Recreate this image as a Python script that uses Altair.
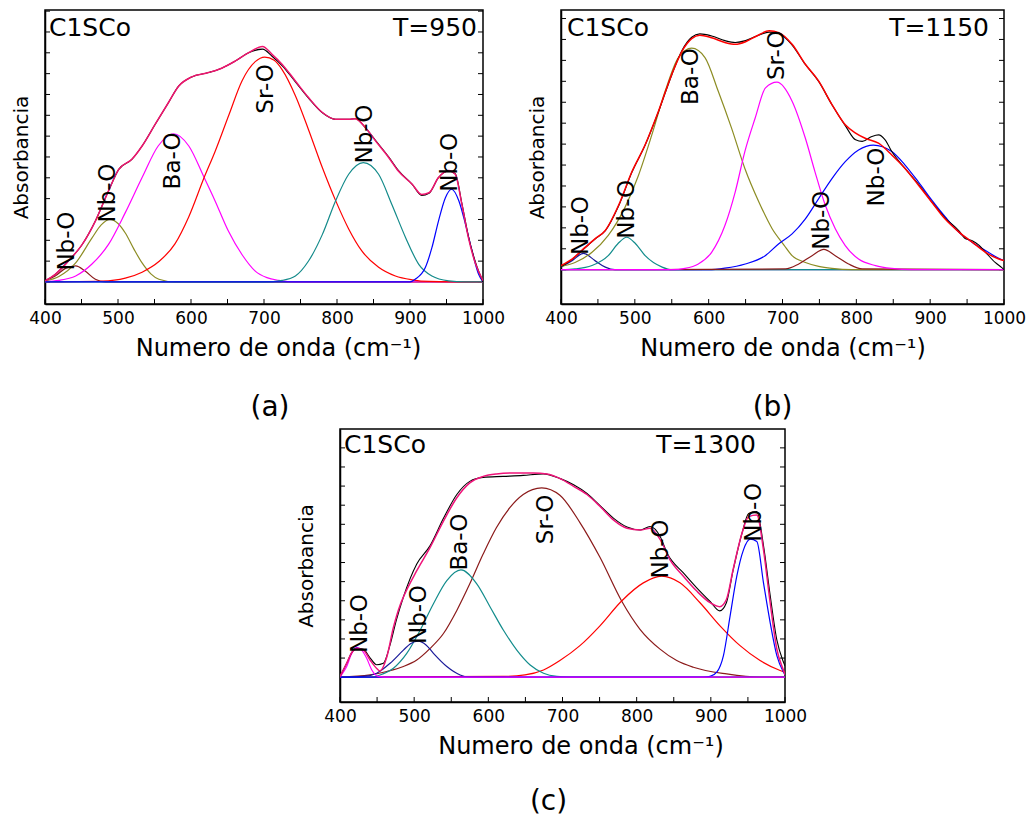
import altair as alt
import pandas as pd

FONT = "DejaVu Sans"
XT = "Numero de onda (cm\u207b\u00b9)"

# ---------------- panel (a)  T=950 ----------------
a_fit_x = [400, 414, 432, 451, 469, 487, 501, 519, 533, 551, 569, 583, 601, 624, 642, 661, 679, 698, 711, 725,
           743, 761, 780, 798, 816, 825, 839, 853, 871, 884, 903, 916, 926, 939, 953, 962, 971, 980, 990, 1000]
a_fit_y = [0.004, 0.028, 0.077, 0.138, 0.224, 0.335, 0.414, 0.451, 0.50, 0.58, 0.659, 0.72, 0.754, 0.77, 0.786,
           0.813, 0.843, 0.866, 0.837, 0.80, 0.739, 0.678, 0.623, 0.598, 0.598, 0.60, 0.567, 0.518, 0.457, 0.408,
           0.359, 0.322, 0.328, 0.384, 0.41, 0.396, 0.286, 0.163, 0.065, 0.005]
a_dat_y = [0.004, 0.028, 0.077, 0.138, 0.224, 0.335, 0.414, 0.451, 0.50, 0.58, 0.659, 0.72, 0.754, 0.77, 0.786,
           0.813, 0.843, 0.856, 0.83, 0.795, 0.736, 0.676, 0.622, 0.598, 0.598, 0.60, 0.567, 0.52, 0.459, 0.41,
           0.359, 0.318, 0.326, 0.384, 0.408, 0.398, 0.29, 0.168, 0.07, 0.0]

a_nb442_x = [400, 414, 428, 442, 455, 469, 483, 1000]
a_nb442_y = [0.004, 0.022, 0.05, 0.059, 0.04, 0.01, 0.0, 0.0]
a_nb489_x = [400, 419, 442, 464, 477, 489, 500, 510, 522, 533, 545, 556, 578, 1000]
a_nb489_y = [0.003, 0.02, 0.07, 0.16, 0.21, 0.23, 0.215, 0.18, 0.12, 0.07, 0.03, 0.01, 0.0, 0.0]
a_ba_x = [400, 419, 442, 464, 487, 510, 533, 555, 576, 597, 618, 633, 651, 670, 688, 704, 720, 745, 1000]
a_ba_y = [0.002, 0.006, 0.022, 0.065, 0.138, 0.255, 0.384, 0.5, 0.545, 0.5, 0.384, 0.298, 0.188, 0.10, 0.04,
          0.016, 0.006, 0.0, 0.0]
a_sr_x = [400, 478, 510, 533, 556, 578, 597, 618, 633, 652, 670, 688, 701, 714, 725, 743, 761, 780, 798, 816,
          834, 857, 880, 903, 926, 1000]
a_sr_y = [0.0, 0.003, 0.014, 0.036, 0.075, 0.14, 0.24, 0.384, 0.48, 0.615, 0.74, 0.81, 0.827, 0.815, 0.78, 0.685,
          0.56, 0.42, 0.30, 0.195, 0.114, 0.054, 0.022, 0.008, 0.002, 0.0]
a_nb836_x = [400, 700, 725, 743, 761, 780, 798, 816, 836, 857, 875, 894, 912, 930, 953, 975, 1000]
a_nb836_y = [0.0, 0.0, 0.006, 0.022, 0.077, 0.175, 0.298, 0.396, 0.439, 0.396, 0.286, 0.163, 0.065, 0.022, 0.004,
             0.0, 0.0]
a_nb956_x = [400, 900, 907, 921, 930, 939, 948.5, 957, 967, 976, 985, 994, 1000]
a_nb956_y = [0.0, 0.0, 0.01, 0.053, 0.126, 0.224, 0.31, 0.341, 0.298, 0.212, 0.114, 0.028, 0.0]

a_lbl_x = [430, 486, 575, 703, 838, 955]
a_lbl_y = [0.15, 0.327, 0.445, 0.71, 0.544, 0.44]
a_lbl_t = ["Nb-O", "Nb-O", "Ba-O", "Sr-O", "Nb-O", "Nb-O"]

# ---------------- panel (b)  T=1150 ----------------
b_fit_x = [400, 415, 433, 446, 460, 478, 496, 514, 532, 550, 564, 577, 588, 604, 622, 636, 650, 665, 682, 695,
           713, 731, 749, 767, 785, 799, 812, 830, 848, 866, 884, 902, 920, 939, 957, 975, 993, 1000]
b_fit_y = [0.016, 0.041, 0.087, 0.119, 0.151, 0.248, 0.377, 0.481, 0.61, 0.752, 0.842, 0.89, 0.903, 0.893, 0.875,
           0.868, 0.878, 0.90, 0.92, 0.913, 0.868, 0.791, 0.726, 0.636, 0.558, 0.526, 0.506, 0.487, 0.442, 0.39,
           0.326, 0.261, 0.196, 0.145, 0.106, 0.067, 0.041, 0.035]
b_dat_x = [400, 415, 433, 446, 460, 478, 496, 514, 532, 550, 564, 577, 588, 604, 622, 636, 650, 665, 682, 695,
           713, 731, 749, 767, 785, 799, 808, 821, 830, 839, 848, 866, 884, 902, 920, 939, 948, 957, 966, 975,
           988, 997, 1000]
b_dat_y = [0.012, 0.04, 0.085, 0.118, 0.15, 0.245, 0.375, 0.48, 0.608, 0.75, 0.845, 0.895, 0.908, 0.9, 0.882,
           0.875, 0.882, 0.9, 0.915, 0.91, 0.865, 0.79, 0.725, 0.635, 0.555, 0.50, 0.494, 0.513, 0.519, 0.50,
           0.455, 0.39, 0.33, 0.262, 0.2, 0.15, 0.119, 0.112, 0.095, 0.067, 0.028, 0.008, 0.0]

b_nb432_x = [400, 415, 430.5, 446, 460, 473, 1000]
b_nb432_y = [0.01, 0.035, 0.063, 0.035, 0.01, 0.0, 0.0]
b_nb489_x = [400, 419, 442, 464, 477, 489, 501, 514, 537, 550, 1000]
b_nb489_y = [0.0, 0.003, 0.016, 0.054, 0.1, 0.125, 0.1, 0.054, 0.01, 0.0, 0.0]
b_ba_x = [400, 419, 442, 464, 487, 505, 523, 541, 559, 577, 595, 613, 631, 649, 668, 686, 702, 713, 731, 749,
          767, 794, 1000]
b_ba_y = [0.013, 0.028, 0.067, 0.132, 0.242, 0.364, 0.519, 0.687, 0.817, 0.853, 0.817, 0.687, 0.545, 0.39, 0.261,
          0.158, 0.095, 0.054, 0.028, 0.013, 0.005, 0.0, 0.0]
b_sr_x = [400, 550, 568, 586, 604, 622, 636, 649, 663, 677, 692.5, 713, 731, 744, 758, 771.5, 785, 803, 826, 848,
          875, 1000]
b_sr_y = [0.0, 0.0, 0.005, 0.022, 0.067, 0.17, 0.30, 0.455, 0.584, 0.70, 0.722, 0.649, 0.506, 0.377, 0.248,
          0.158, 0.093, 0.041, 0.016, 0.005, 0.0, 0.0]
b_nb756_x = [400, 704, 722, 740, 756, 771.5, 789.5, 808, 1000]
b_nb756_y = [0.0, 0.003, 0.022, 0.054, 0.078, 0.054, 0.022, 0.003, 0.0]
b_nb823_x = [400, 600, 622, 649.5, 676.6, 695, 713, 731, 749, 767, 785, 803, 823, 848, 866, 884, 902.5, 920.5,
             938.6, 956.7, 974.7, 992.8, 1000]
b_nb823_y = [0.0, 0.0, 0.006, 0.022, 0.054, 0.10, 0.138, 0.196, 0.274, 0.351, 0.416, 0.461, 0.48, 0.455, 0.403,
             0.338, 0.267, 0.203, 0.145, 0.106, 0.074, 0.044, 0.035]

b_lbl_x = [427.6, 489, 575.6, 692, 753, 828]
b_lbl_y = [0.17, 0.233, 0.744, 0.826, 0.19, 0.357]
b_lbl_t = ["Nb-O", "Nb-O", "Ba-O", "Sr-O", "Nb-O", "Nb-O"]

# ---------------- panel (c)  T=1300 ----------------
c_fit_x = [400, 409, 416, 422.5, 431.5, 440.5, 449.5, 454, 463, 472, 481, 485.5, 503.5, 521.5, 539.5, 557.5, 575,
           593, 611, 634, 661, 679, 697, 715, 733, 751, 769, 787, 805, 818, 832, 845, 863, 881, 899, 912, 921,
           930, 942, 951, 962, 971, 980, 989, 998, 1000]
c_fit_y = [0.003, 0.056, 0.1, 0.116, 0.109, 0.069, 0.035, 0.025, 0.08, 0.2, 0.29, 0.323, 0.429, 0.523, 0.629,
           0.723, 0.783, 0.809, 0.819, 0.823, 0.823, 0.819, 0.80, 0.769, 0.736, 0.687, 0.633, 0.60, 0.593, 0.60,
           0.553, 0.473, 0.407, 0.347, 0.30, 0.284, 0.313, 0.433, 0.58, 0.647, 0.653, 0.513, 0.30, 0.113, 0.027,
           0.01]
c_dat_x = [400, 409, 416, 422.5, 431.5, 440.5, 449.5, 458.5, 467.5, 476, 485.5, 503.5, 521.5, 539.5, 557.5, 575,
           593, 620, 647, 674, 697, 715, 733, 751, 769, 787, 805, 818, 832, 841, 863, 881, 899, 912, 921, 930, 942,
           951, 962, 971, 980, 989, 998, 1000]
c_dat_y = [0.003, 0.056, 0.1, 0.116, 0.112, 0.078, 0.05, 0.056, 0.13, 0.23, 0.323, 0.456, 0.53, 0.64, 0.736,
           0.789, 0.805, 0.809, 0.813, 0.819, 0.80, 0.775, 0.74, 0.69, 0.64, 0.605, 0.593, 0.607, 0.565, 0.50,
           0.42, 0.36, 0.305, 0.267, 0.30, 0.43, 0.58, 0.66, 0.667, 0.53, 0.33, 0.15, 0.06, 0.045]

c_nb425_x = [400, 404.5, 409, 415, 422.5, 429, 436, 442.7, 451.7, 460, 1000]
c_nb425_y = [0.0, 0.02, 0.043, 0.09, 0.12, 0.11, 0.076, 0.03, 0.003, 0.0, 0.0]
c_nb505_x = [400, 431.5, 449.5, 467.5, 485.5, 495, 505.7, 516, 526, 544, 562, 575, 1000]
c_nb505_y = [0.0, 0.003, 0.016, 0.056, 0.109, 0.135, 0.145, 0.13, 0.096, 0.043, 0.009, 0.0, 0.0]
c_ba_x = [400, 440, 454, 472, 490, 508, 526, 544, 563, 584.4, 602.4, 620.4, 638.4, 656.4, 674.4, 692.4, 710, 1000]
c_ba_y = [0.0, 0.0, 0.009, 0.036, 0.096, 0.189, 0.296, 0.389, 0.432, 0.376, 0.283, 0.189, 0.109, 0.049, 0.016,
          0.003, 0.0, 0.0]
c_sr_x = [400, 440.5, 463, 485.5, 503.5, 521.5, 539.5, 557.5, 575, 593, 611, 629, 647, 672, 696.5, 723.5, 750.5,
          779.7, 804.5, 831.5, 854, 876.4, 921.4, 966.4, 1000]
c_sr_y = [0.0, 0.009, 0.023, 0.043, 0.069, 0.116, 0.176, 0.269, 0.376, 0.496, 0.603, 0.683, 0.736, 0.763, 0.733,
          0.623, 0.483, 0.307, 0.193, 0.113, 0.067, 0.04, 0.013, 0.0, 0.0]
c_nb833_x = [400, 620, 649.4, 674.4, 696.5, 723.5, 750.5, 779.7, 809, 833.7, 858.4, 885.4, 912.4, 939.4, 966.4,
             993.4, 1000]
c_nb833_y = [0.0, 0.003, 0.009, 0.029, 0.067, 0.127, 0.207, 0.307, 0.38, 0.407, 0.38, 0.30, 0.207, 0.127, 0.067,
             0.027, 0.02]
c_nb953_x = [400, 890, 899, 908, 917, 926, 935, 944, 953, 962, 971, 980, 989, 998, 1000]
c_nb953_y = [0.0, 0.0, 0.003, 0.02, 0.087, 0.247, 0.407, 0.513, 0.556, 0.547, 0.38, 0.22, 0.087, 0.02, 0.01]

c_lbl_x = [426.6, 506, 562, 677.6, 832.8, 958]
c_lbl_y = [0.216, 0.252, 0.544, 0.636, 0.516, 0.664]
c_lbl_t = ["Nb-O", "Nb-O", "Ba-O", "Sr-O", "Nb-O", "Nb-O"]

x_ticks = list(range(400, 1001, 100))
x_minor = list(range(400, 1001, 50))


def make_panel(curves, dat, fit, fit_color, lbl, temp, ydom, ystep, w, h, tag, corner, ytpad, tag_off,
               tag_dx, xtitle_dx):
    rows = []
    for name, xs, ys, col in curves:
        for xv, yv in zip(xs, ys):
            rows.append({"series": name, "x": xv, "y": yv, "color": col})
    comp_df = pd.DataFrame(rows)
    xsc = alt.Scale(domain=[400, 1000], nice=False, zero=False)
    ysc = alt.Scale(domain=ydom, nice=False, zero=False)
    xax = alt.Axis(values=x_ticks, format="d", tickSize=0, labelFont=FONT, labelFontSize=17, labelPadding=6,
                   labelFlush=False, labelColor="black", title=XT, titleFont=FONT, titleFontSize=24,
                   titleFontWeight="normal", titlePadding=10, titleColor="black", grid=False,
                   titleX=w / 2 + xtitle_dx, titleAlign="center",
                   domainWidth=1.5, domainColor="black")
    yax = alt.Axis(labels=False, ticks=False, grid=False, title="Absorbancia", titleFont=FONT,
                   titleFontSize=20, titleFontWeight="normal", titlePadding=ytpad, titleColor="black",
                   domainWidth=1.5, domainColor="black")
    X = alt.X("x:Q", scale=xsc, axis=xax)
    Y = alt.Y("y:Q", scale=ysc, axis=yax)

    ytick_df = pd.DataFrame({"y": [round(k * ystep, 4) for k in range(int(1 / ystep) + 1)]})
    xtick_df = pd.DataFrame({"x": x_minor})
    t_bot = alt.Chart(xtick_df).mark_rule(color="black", strokeWidth=1).encode(
        X, y=alt.value(h), y2=alt.value(h - 5))
    t_left = alt.Chart(ytick_df).mark_rule(color="black", strokeWidth=1).encode(
        Y, x=alt.value(0), x2=alt.value(5))
    t_right = alt.Chart(ytick_df).mark_rule(color="black", strokeWidth=1).encode(
        Y, x=alt.value(w - 5), x2=alt.value(w))

    comps = alt.Chart(comp_df).mark_line(interpolate="monotone", strokeWidth=1.2, clip=True).encode(
        X, Y, color=alt.Color("color:N", scale=None), detail="series:N")
    dat_line = alt.Chart(pd.DataFrame({"x": dat[0], "y": dat[1]})).mark_line(
        interpolate="monotone", color="black", strokeWidth=1.1, clip=True).encode(X, Y)
    fit_line = alt.Chart(pd.DataFrame({"x": fit[0], "y": fit[1]})).mark_line(
        interpolate="monotone", color=fit_color, strokeWidth=1.5, clip=True).encode(X, Y)
    labels = alt.Chart(pd.DataFrame({"x": lbl[0], "y": lbl[1], "t": lbl[2]})).mark_text(
        angle=270, font=FONT, fontSize=23, color="black", align="center", baseline="middle").encode(
        X, Y, text="t:N")
    left_txt = alt.Chart(pd.DataFrame({"t": ["C1SCo"]})).mark_text(
        align="left", baseline="middle", font=FONT, fontSize=25, color="black").encode(
        x=alt.value(corner[0]), y=alt.value(corner[1]), text="t:N")
    right_txt = alt.Chart(pd.DataFrame({"t": [temp]})).mark_text(
        align="right", baseline="middle", font=FONT, fontSize=25, color="black").encode(
        x=alt.value(corner[2]), y=alt.value(corner[1]), text="t:N")

    return alt.layer(t_bot, t_left, t_right, comps, dat_line, fit_line, labels, left_txt, right_txt).properties(
        width=w, height=h,
        title=alt.TitleParams(tag, orient="bottom", anchor="middle", fontSize=28, font=FONT,
                              fontWeight="normal", color="black", offset=tag_off, dx=tag_dx),
        view=alt.ViewBackground(stroke="black", strokeWidth=1.5))


panel_a = make_panel(
    [("nb442", a_nb442_x, a_nb442_y, "#8B1A1A"), ("nb489", a_nb489_x, a_nb489_y, "#8C8C23"),
     ("ba", a_ba_x, a_ba_y, "#FF00FF"), ("sr", a_sr_x, a_sr_y, "#FF0000"),
     ("nb836", a_nb836_x, a_nb836_y, "#138A8A"), ("nb956", a_nb956_x, a_nb956_y, "#0000FF")],
    (a_fit_x, a_dat_y), (a_fit_x, a_fit_y), "#F0146E", (a_lbl_x, a_lbl_y, a_lbl_t), "T=950",
    [-0.081, 1.0], 0.0766, 438, 294, "(a)", (4, 18, 432), 14, 34, 6, 14)

panel_b = make_panel(
    [("nb432", b_nb432_x, b_nb432_y, "#1A1A9A"), ("nb489", b_nb489_x, b_nb489_y, "#128C8C"),
     ("ba", b_ba_x, b_ba_y, "#8C8C23"), ("nb823", b_nb823_x, b_nb823_y, "#0000FF"),
     ("nb756", b_nb756_x, b_nb756_y, "#8B1A1A"), ("sr", b_sr_x, b_sr_y, "#FF00FF")],
    (b_dat_x, b_dat_y), (b_fit_x, b_fit_y), "#FF0000", (b_lbl_x, b_lbl_y, b_lbl_t), "T=1150",
    [-0.132, 1.0], 0.0806, 443, 294, "(b)", (6, 18, 428), 14, 34, -10, 0)

panel_c = make_panel(
    [("sr", c_sr_x, c_sr_y, "#8B1A1A"), ("nb833", c_nb833_x, c_nb833_y, "#FF0000"),
     ("ba", c_ba_x, c_ba_y, "#128C8C"), ("nb505", c_nb505_x, c_nb505_y, "#1A1A9A"),
     ("nb953", c_nb953_x, c_nb953_y, "#0000FF"), ("nb425", c_nb425_x, c_nb425_y, "#FF00FF")],
    (c_dat_x, c_dat_y), (c_fit_x, c_fit_y), "#F0147A", (c_lbl_x, c_lbl_y, c_lbl_t), "T=1300",
    [-0.1, 1.0], 0.077, 445, 273, "(c)", (4, 16, 416), 24, 30, -14, 18)

spacer = alt.Chart(pd.DataFrame({"t": [""]})).mark_text().encode(
    text="t:N", x=alt.value(0), y=alt.value(0)).properties(
    width=250, height=20, view=alt.ViewBackground(strokeOpacity=0))

top = alt.hconcat(panel_a, panel_b, spacing=20)
bottom = alt.hconcat(spacer, panel_c, spacing=0)
chart = alt.vconcat(top, bottom, spacing=0).properties(
    padding={"left": 10, "top": 9, "right": 0, "bottom": 0}
).configure(background="white")

chart.save("out.html", embed_options={"renderer": "svg", "actions": False})
